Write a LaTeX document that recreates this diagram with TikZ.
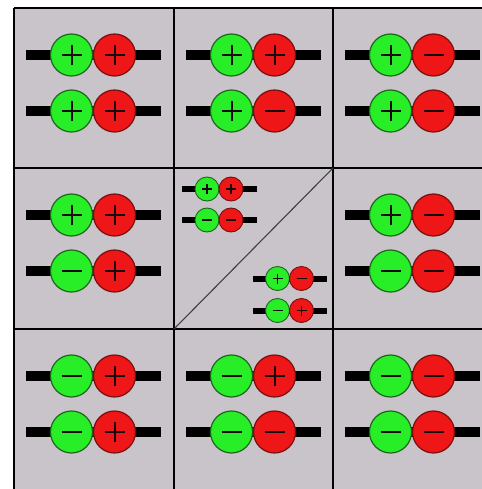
\documentclass[tikz,border=0pt]{standalone}
\usepackage{tikz}
\definecolor{bggray}{RGB}{200,196,202}
\definecolor{ballgreen}{RGB}{40,238,40}
\definecolor{ballred}{RGB}{238,22,22}
\definecolor{greenrim}{RGB}{30,100,30}
\definecolor{redrim}{RGB}{120,15,15}
\definecolor{signdark}{RGB}{25,10,10}
\tikzset{
  gridline/.style={line width=2.2pt, black},
  diagline/.style={line width=1.1pt, black!75},
  bigbar/.style={line width=10pt, black},
  smallbar/.style={line width=6pt, black},
  gball/.style={circle, draw=greenrim, fill=ballgreen, inner sep=0pt, line width=1.2pt},
  rball/.style={circle, draw=redrim, fill=ballred, inner sep=0pt, line width=1.2pt},
  bigsign/.style={line width=2pt, signdark},
  smallsign/.style={line width=1.2pt, signdark},
}
% sign on a ball: #1 node, #2 p/m, #3 half size, #4 style
\newcommand\ballsign[4]{%
  \draw[#4] ([xshift=-#3pt]#1.center) -- ([xshift=#3pt]#1.center);
  \if#2p\draw[#4] ([yshift=-#3pt]#1.center) -- ([yshift=#3pt]#1.center);\fi
}
% big molecule: #1 name, #2 x, #3 y, #4 left sign, #5 right sign
\newcommand\bigmol[5]{%
  \coordinate (#1-a) at (#2-67,#3);
  \coordinate (#1-b) at (#2+68,#3);
  \draw[bigbar] (#1-a) -- (#1-b);
  \node[gball, minimum size=42pt] (#1-g) at (#2-21.5,#3) {};
  \node[rball, minimum size=42pt] (#1-r) at (#2+21.5,#3) {};
  \ballsign{#1-g}{#4}{10}{bigsign}
  \ballsign{#1-r}{#5}{10}{bigsign}
}
% small molecule
\newcommand\smallmol[5]{%
  \coordinate (#1-a) at (#2-37,#3);
  \coordinate (#1-b) at (#2+37.5,#3);
  \draw[smallbar] (#1-a) -- (#1-b);
  \node[gball, minimum size=24pt, line width=0.9pt] (#1-g) at (#2-12,#3) {};
  \node[rball, minimum size=24pt, line width=0.9pt] (#1-r) at (#2+12,#3) {};
  \ballsign{#1-g}{#4}{5}{smallsign}
  \ballsign{#1-r}{#5}{5}{smallsign}
}
\begin{document}
\begin{tikzpicture}[x=1pt, y=-1pt]
  \useasboundingbox (0,0) rectangle (481,489);
  \fill[white] (0,0) rectangle (481,489);
  \fill[bggray] (14,8) rectangle (495,492);
  % grid
  \coordinate (v1t) at (14,8);   \coordinate (v1b) at (14,492);
  \coordinate (v2t) at (174,8);  \coordinate (v2b) at (174,492);
  \coordinate (v3t) at (333,8);  \coordinate (v3b) at (333,492);
  \coordinate (h1l) at (14,8);   \coordinate (h1r) at (495,8);
  \coordinate (h2l) at (14,168); \coordinate (h2r) at (495,168);
  \coordinate (h3l) at (14,329); \coordinate (h3r) at (495,329);
  \coordinate (h4l) at (14,489.5); \coordinate (h4r) at (495,489.5);
  \draw[gridline] (v1t) -- (v1b);
  \draw[gridline] (v2t) -- (v2b);
  \draw[gridline] (v3t) -- (v3b);
  \draw[gridline] (h1l) -- (h1r);
  \draw[gridline] (h2l) -- (h2r);
  \draw[gridline] (h3l) -- (h3r);
  \draw[line width=1pt, black!60] (h4l) -- (h4r);
  % diagonal in centre cell
  \coordinate (dA) at (174,329);
  \coordinate (dB) at (333,168);
  \draw[diagline] (dA) -- (dB);
  % row 1
  \bigmol{m11a}{93}{55}{p}{p}
  \bigmol{m11b}{93}{111}{p}{p}
  \bigmol{m12a}{253}{55}{p}{p}
  \bigmol{m12b}{253}{111}{p}{m}
  \bigmol{m13a}{412}{55}{p}{m}
  \bigmol{m13b}{412}{111}{p}{m}
  % row 2
  \bigmol{m21a}{93}{215}{p}{p}
  \bigmol{m21b}{93}{271}{m}{p}
  \bigmol{m23a}{412}{215}{p}{m}
  \bigmol{m23b}{412}{271}{m}{m}
  % centre cell
  \smallmol{c1}{219}{189}{p}{p}
  \smallmol{c2}{219}{220}{m}{m}
  \smallmol{c3}{289.5}{278.5}{p}{m}
  \smallmol{c4}{289.5}{310.5}{m}{p}
  % row 3
  \bigmol{m31a}{93}{376}{m}{p}
  \bigmol{m31b}{93}{432}{m}{p}
  \bigmol{m32a}{253}{376}{m}{p}
  \bigmol{m32b}{253}{432}{m}{m}
  \bigmol{m33a}{412}{376}{m}{m}
  \bigmol{m33b}{412}{432}{m}{m}
\end{tikzpicture}
\end{document}
